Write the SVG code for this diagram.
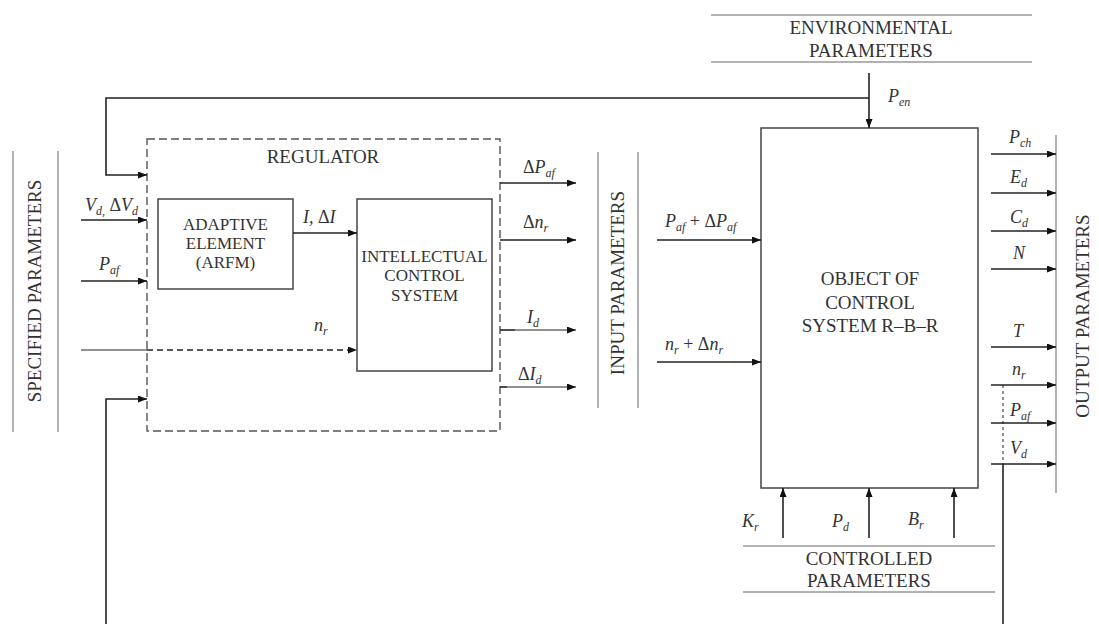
<svg xmlns="http://www.w3.org/2000/svg" width="1099" height="624" viewBox="0 0 1099 624">
<defs>
<marker id="ah" viewBox="0 0 9 7" refX="9" refY="3.5" markerWidth="9" markerHeight="7" markerUnits="userSpaceOnUse" orient="auto"><path d="M0,0 L9,3.5 L0,7 z" fill="#111"/></marker>
<style>
.ln{stroke:#222;stroke-width:1.6;fill:none}
.thin{stroke:#222;stroke-width:1;fill:none}
.hdr{stroke:#999;stroke-width:1.5;fill:none}
.box{stroke:#444;stroke-width:1.5;fill:#fff}
.dash{stroke:#555;stroke-width:1.4;fill:none;stroke-dasharray:8,4}
.t{font-family:"Liberation Serif","Times New Roman",serif;font-size:19px;fill:#333}
.bt{font-family:"Liberation Serif","Times New Roman",serif;font-size:17px;fill:#333}
.m{font-family:"Liberation Serif","Times New Roman",serif;font-size:18px;font-style:italic;fill:#333}
.s{font-size:12px}
.u{font-style:normal}
</style>
</defs>
<rect width="1099" height="624" fill="#fff"/>

<g id="specified-parameters">
<line class="hdr" x1="13" y1="151" x2="13" y2="432"/>
<line class="hdr" x1="58" y1="151" x2="58" y2="432"/>
<text class="t" text-anchor="middle" transform="translate(41,291) rotate(-90)">SPECIFIED PARAMETERS</text>
</g>

<g id="input-parameters">
<line class="hdr" x1="598" y1="152" x2="598" y2="408"/>
<line class="hdr" x1="638" y1="152" x2="638" y2="408"/>
<text class="t" text-anchor="middle" transform="translate(624,283) rotate(-90)">INPUT PARAMETERS</text>
</g>

<g id="output-parameters">
<line class="hdr" x1="1056" y1="135" x2="1056" y2="493"/>
<text class="t" text-anchor="middle" transform="translate(1089,316) rotate(-90)">OUTPUT PARAMETERS</text>
</g>

<g id="environmental-parameters">
<line class="hdr" x1="711" y1="15" x2="1032" y2="15"/>
<line class="hdr" x1="711" y1="62" x2="1032" y2="62"/>
<text class="t" text-anchor="middle" x="871" y="33.5">ENVIRONMENTAL</text>
<text class="t" text-anchor="middle" x="871" y="57">PARAMETERS</text>
</g>

<g id="controlled-parameters">
<line class="hdr" x1="743" y1="546" x2="995" y2="546"/>
<line class="hdr" x1="743" y1="592" x2="995" y2="592"/>
<text class="t" text-anchor="middle" x="869" y="565">CONTROLLED</text>
<text class="t" text-anchor="middle" x="869" y="587">PARAMETERS</text>
</g>

<g id="regulator">
<rect class="dash" x="147" y="139" width="353" height="292"/>
<text class="t" text-anchor="middle" x="323" y="163">REGULATOR</text>
</g>

<g id="adaptive-element">
<rect class="box" x="158" y="199" width="135" height="90"/>
<text class="bt" text-anchor="middle" x="225.5" y="230">ADAPTIVE</text>
<text class="bt" text-anchor="middle" x="225.5" y="249">ELEMENT</text>
<text class="bt" text-anchor="middle" x="225.5" y="268">(ARFM)</text>
</g>

<g id="intellectual-control-system">
<rect class="box" x="357" y="199" width="135" height="172"/>
<text class="bt" text-anchor="middle" x="424.5" y="262">INTELLECTUAL</text>
<text class="bt" text-anchor="middle" x="424.5" y="281">CONTROL</text>
<text class="bt" text-anchor="middle" x="424.5" y="301">SYSTEM</text>
</g>

<g id="object-of-control">
<rect class="box" x="761" y="128" width="217" height="360"/>
<text class="t" text-anchor="middle" x="870" y="285">OBJECT OF</text>
<text class="t" text-anchor="middle" x="870" y="308.5">CONTROL</text>
<text class="t" text-anchor="middle" x="870" y="332">SYSTEM R–B–R</text>
</g>

<g id="connectors">
<!-- top feedback -->
<polyline class="ln" points="869,98 106,98 106,175 147,175" marker-end="url(#ah)"/>
<line class="ln" x1="869" y1="73" x2="869" y2="128" marker-end="url(#ah)"/>
<!-- specified inputs -->
<line class="ln" x1="81" y1="220" x2="147" y2="220" marker-end="url(#ah)"/>
<line class="ln" x1="81" y1="281" x2="147" y2="281" marker-end="url(#ah)"/>
<line class="thin" x1="81" y1="350" x2="147" y2="350"/>
<line class="ln" x1="147" y1="350" x2="357" y2="350" stroke-dasharray="6,4" marker-end="url(#ah)"/>
<!-- adaptive to ICS -->
<line class="ln" x1="293" y1="233" x2="357" y2="233" marker-end="url(#ah)"/>
<!-- regulator outputs -->
<line class="ln" x1="500" y1="183" x2="576" y2="183" marker-end="url(#ah)"/>
<line class="ln" x1="500" y1="240" x2="576" y2="240" marker-end="url(#ah)"/>
<line class="ln" x1="500" y1="330" x2="515" y2="330"/>
<line class="thin" x1="515" y1="330" x2="576" y2="330" marker-end="url(#ah)"/>
<line class="ln" x1="500" y1="387" x2="507" y2="387"/>
<line class="thin" x1="507" y1="387" x2="576" y2="387" marker-end="url(#ah)"/>
<!-- inputs to object -->
<line class="ln" x1="657" y1="240" x2="761" y2="240" marker-end="url(#ah)"/>
<line class="ln" x1="657" y1="362" x2="761" y2="362" marker-end="url(#ah)"/>
<!-- outputs -->
<line class="ln" x1="991" y1="154" x2="1056" y2="154" marker-end="url(#ah)"/>
<line class="ln" x1="991" y1="193" x2="1056" y2="193" marker-end="url(#ah)"/>
<line class="ln" x1="991" y1="231" x2="1056" y2="231" marker-end="url(#ah)"/>
<line class="ln" x1="991" y1="269" x2="1056" y2="269" marker-end="url(#ah)"/>
<line class="ln" x1="991" y1="347" x2="1056" y2="347" marker-end="url(#ah)"/>
<line class="ln" x1="991" y1="385" x2="1056" y2="385" marker-end="url(#ah)"/>
<line class="ln" x1="991" y1="423" x2="1056" y2="423" marker-end="url(#ah)"/>
<line class="ln" x1="991" y1="464" x2="1056" y2="464" marker-end="url(#ah)"/>
<!-- controlled inputs -->
<line class="ln" x1="783" y1="538" x2="783" y2="488" marker-end="url(#ah)"/>
<line class="ln" x1="869" y1="538" x2="869" y2="488" marker-end="url(#ah)"/>
<line class="ln" x1="954" y1="538" x2="954" y2="488" marker-end="url(#ah)"/>
<!-- bottom feedback -->
<line class="thin" x1="1003" y1="385" x2="1003" y2="464" stroke-dasharray="3,3"/>
<line class="ln" x1="1003" y1="464" x2="1003" y2="624"/>
<polyline class="ln" points="106,624 106,399 147,399" marker-end="url(#ah)"/>
</g>

<g id="labels">
<text class="m" x="85" y="211">V<tspan class="s" dy="4">d,</tspan><tspan dy="-4"> </tspan><tspan class="u">Δ</tspan>V<tspan class="s" dy="4">d</tspan></text>
<text class="m" x="99" y="270">P<tspan class="s" dy="4">af</tspan></text>
<text class="m" x="303" y="223">I, <tspan class="u">Δ</tspan>I</text>
<text class="m" x="314" y="331">n<tspan class="s" dy="4">r</tspan></text>
<text class="m" x="523" y="173"><tspan class="u">Δ</tspan>P<tspan class="s" dy="4">af</tspan></text>
<text class="m" x="523" y="228"><tspan class="u">Δ</tspan>n<tspan class="s" dy="4">r</tspan></text>
<text class="m" x="527" y="323">I<tspan class="s" dy="4">d</tspan></text>
<text class="m" x="518" y="380"><tspan class="u">Δ</tspan>I<tspan class="s" dy="4">d</tspan></text>
<text class="m" x="888" y="102">P<tspan class="s" dy="4">en</tspan></text>
<text class="m" x="665" y="227">P<tspan class="s" dy="4">af</tspan><tspan class="u" dy="-4"> + Δ</tspan>P<tspan class="s" dy="4">af</tspan></text>
<text class="m" x="665" y="350">n<tspan class="s" dy="4">r</tspan><tspan class="u" dy="-4"> + Δ</tspan>n<tspan class="s" dy="4">r</tspan></text>
<text class="m" x="1009" y="143">P<tspan class="s" dy="4">ch</tspan></text>
<text class="m" x="1010" y="183">E<tspan class="s" dy="4">d</tspan></text>
<text class="m" x="1010" y="223">C<tspan class="s" dy="4">d</tspan></text>
<text class="m" x="1013" y="259">N</text>
<text class="m" x="1013" y="337">T</text>
<text class="m" x="1012" y="375">n<tspan class="s" dy="4">r</tspan></text>
<text class="m" x="1010" y="416">P<tspan class="s" dy="4">af</tspan></text>
<text class="m" x="1010" y="454">V<tspan class="s" dy="4">d</tspan></text>
<text class="m" x="742" y="527">K<tspan class="s" dy="4">r</tspan></text>
<text class="m" x="832" y="527">P<tspan class="s" dy="4">d</tspan></text>
<text class="m" x="908" y="525">B<tspan class="s" dy="4">r</tspan></text>
</g>
</svg>
